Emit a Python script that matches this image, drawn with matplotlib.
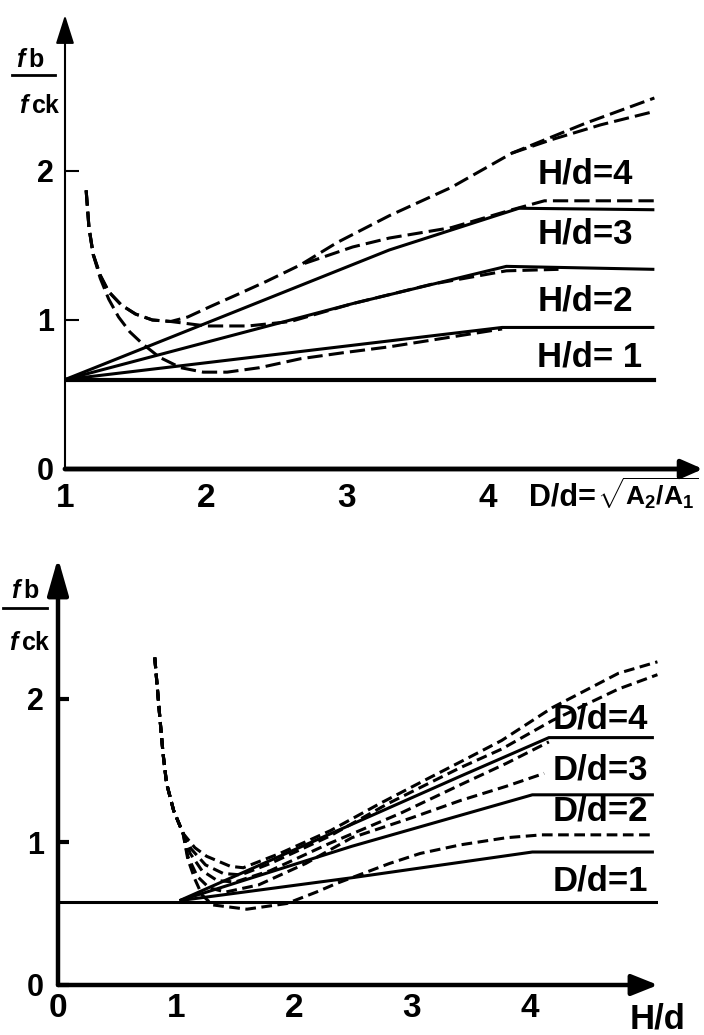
import matplotlib
matplotlib.use('Agg')
import matplotlib.pyplot as plt
from matplotlib.lines import Line2D

plt.rcParams['font.family'] = ['Liberation Sans', 'DejaVu Sans']
plt.rcParams['font.weight'] = 'bold'
plt.rcParams['mathtext.fontset'] = 'custom'
plt.rcParams['mathtext.rm'] = 'Liberation Sans:bold'
plt.rcParams['mathtext.it'] = 'Liberation Sans:italic:bold'
plt.rcParams['mathtext.bf'] = 'Liberation Sans:bold'

# ---------------- data: top panel (x = D/d) ----------------
top_xticks = [1, 2, 3, 4]
top_yticks = [0, 1, 2]
top_labels = ['H/d=4', 'H/d=3', 'H/d=2', 'H/d= 1']
top_label_y = [1.98, 1.58, 1.13, 0.75]

top_base_x = [1.0, 5.18]
top_base_y = [0.6, 0.6]

top_s1_x = [1.0, 4.1, 5.18]
top_s1_y = [0.6, 0.95, 0.95]
top_s2_x = [1.0, 3.04, 4.13, 5.18]
top_s2_y = [0.6, 1.11, 1.36, 1.34]
top_s3_x = [1.0, 3.30, 4.22, 5.18]
top_s3_y = [0.6, 1.47, 1.75, 1.74]

top_da_x = [1.15, 1.17, 1.20, 1.25, 1.31, 1.38, 1.46, 1.55, 1.67, 1.82, 1.98, 2.15,
            2.38, 2.67, 2.97, 3.30, 3.7, 4.1]
top_da_y = [1.87, 1.62, 1.44, 1.28, 1.14, 1.02, 0.92, 0.84, 0.75, 0.68, 0.65, 0.65,
            0.68, 0.74, 0.78, 0.82, 0.88, 0.94]
top_db_x = [1.15, 1.17, 1.20, 1.25, 1.31, 1.40, 1.50, 1.62, 1.75, 2.0, 2.3, 2.6, 3.04,
            3.6, 4.13, 4.5]
top_db_y = [1.87, 1.62, 1.44, 1.30, 1.19, 1.10, 1.04, 1.00, 0.99, 0.96, 0.96, 0.99, 1.11,
            1.24, 1.33, 1.34]
top_dt_x = [1.15, 1.17, 1.20, 1.25, 1.31, 1.40, 1.50, 1.62, 1.75, 1.87, 2.03, 2.22, 2.43,
            2.67, 2.93, 3.30, 3.74, 4.17, 4.69, 5.18]
top_dt_y = [1.87, 1.62, 1.44, 1.30, 1.19, 1.10, 1.04, 1.00, 0.99, 1.02, 1.09, 1.17, 1.26,
            1.37, 1.52, 1.70, 1.89, 2.12, 2.32, 2.49]
top_dt2_x = [4.17, 4.45, 4.8, 5.18]
top_dt2_y = [2.12, 2.21, 2.31, 2.40]
top_dc_x = [2.70, 3.04, 3.30, 3.74, 4.17, 4.4, 5.18]
top_dc_y = [1.38, 1.49, 1.55, 1.62, 1.74, 1.80, 1.80]

# ---------------- data: bottom panel (x = H/d) ----------------
bot_xticks = [0, 1, 2, 3, 4]
bot_yticks = [0, 1, 2]
bot_labels = ['D/d=4', 'D/d=3', 'D/d=2', 'D/d=1']
bot_label_y = [1.86, 1.50, 1.22, 0.73]

bot_base_x = [0.0, 5.22]
bot_base_y = [0.58, 0.58]

bot_s1_x = [1.03, 2.49, 4.02, 5.05]
bot_s1_y = [0.59, 0.75, 0.93, 0.93]
bot_s2_x = [1.03, 2.49, 4.02, 5.05]
bot_s2_y = [0.59, 0.97, 1.33, 1.33]
bot_s3_x = [1.03, 3.41, 4.16, 5.05]
bot_s3_y = [0.59, 1.46, 1.73, 1.73]

stem_x = [0.82, 0.86, 0.89, 0.92, 0.98, 1.06]
stem_y = [2.29, 1.90, 1.62, 1.41, 1.22, 1.06]
bot_u1_x = stem_x + [1.16, 1.26, 1.46, 1.57, 1.88, 2.31, 2.73, 3.15, 3.41, 3.76, 4.19, 4.75, 5.08]
bot_u1_y = stem_y + [0.96, 0.90, 0.83, 0.82, 0.92, 1.08, 1.27, 1.45, 1.56, 1.71, 1.94, 2.18, 2.26]
bot_u2_x = stem_x + [1.13, 1.25, 1.4, 1.55, 1.8, 2.3, 2.8, 3.41, 3.76, 4.19, 4.75, 5.08]
bot_u2_y = stem_y + [0.95, 0.84, 0.78, 0.77, 0.85, 1.04, 1.27, 1.52, 1.65, 1.85, 2.07, 2.17]
bot_u3_x = stem_x + [1.12, 1.22, 1.35, 1.5, 1.8, 2.3, 2.9, 3.41, 3.8, 4.16]
bot_u3_y = stem_y + [0.92, 0.80, 0.73, 0.72, 0.80, 0.99, 1.20, 1.40, 1.55, 1.70]
bot_u4_x = stem_x + [1.1, 1.18, 1.28, 1.42, 1.7, 2.1, 2.49, 3.0, 3.41, 3.8, 4.12]
bot_u4_y = stem_y + [0.90, 0.76, 0.68, 0.65, 0.70, 0.85, 1.03, 1.17, 1.29, 1.39, 1.48]
bot_u5_x = stem_x + [1.1, 1.16, 1.22, 1.31, 1.6, 1.94, 2.19, 2.36, 2.81, 3.07, 3.41, 3.8, 4.1, 5.06]
bot_u5_y = stem_y + [0.88, 0.74, 0.63, 0.56, 0.53, 0.57, 0.65, 0.71, 0.85, 0.92, 0.98, 1.03, 1.05, 1.05]

# ---------------- figure ----------------
W, H = 704, 1035
fig = plt.figure(figsize=(W / 100, H / 100), dpi=100)


def fx(px):
    return px / W


def fy(py):
    return 1 - py / H


def axis_arrows(ax, lwx, lwy, hx, hy):
    ax.annotate('', xy=(1, 0), xytext=(0, 0), xycoords='axes fraction',
                textcoords='axes fraction',
                arrowprops=dict(arrowstyle='-|>,head_length=%s,head_width=%s' % hx,
                                lw=lwx, color='black', shrinkA=0, shrinkB=0,
                                mutation_scale=16))
    ax.annotate('', xy=(0, 1), xytext=(0, 0), xycoords='axes fraction',
                textcoords='axes fraction',
                arrowprops=dict(arrowstyle='-|>,head_length=%s,head_width=%s' % hy,
                                lw=lwy, color='black', shrinkA=0, shrinkB=0,
                                mutation_scale=16))


SOL = dict(color='black', lw=2.2, solid_capstyle='butt')

# ---- top axes ----
ax1 = fig.add_axes([fx(65), fy(469), 638 / W, 454 / H])
ax1.set_xlim(1, 1 + 638 / 141)
ax1.set_ylim(0, 454 / 149)
for s in ax1.spines.values():
    s.set_visible(False)
axis_arrows(ax1, 3.5, 1.5, (0.8, 0.35), (1.1, 0.35))

DT = dict(color='black', lw=2.2, linestyle=(0, (5, 2)))
ax1.plot(top_base_x, top_base_y, color='black', lw=3.0)
ax1.plot(top_s1_x, top_s1_y, **SOL)
ax1.plot(top_s2_x, top_s2_y, **SOL)
ax1.plot(top_s3_x, top_s3_y, **SOL)
ax1.plot(top_da_x, top_da_y, **DT)
ax1.plot(top_db_x, top_db_y, **DT)
ax1.plot(top_dt_x, top_dt_y, **DT)
ax1.plot(top_dt2_x, top_dt2_y, **DT)
ax1.plot(top_dc_x, top_dc_y, **DT)

ax1.set_xticks(top_xticks)
ax1.set_xticklabels([str(v) for v in top_xticks])
ax1.set_yticks(top_yticks)
ax1.set_yticklabels([str(v) for v in top_yticks])
ax1.tick_params(axis='x', length=0, pad=10, labelsize=24)
ax1.tick_params(axis='y', direction='in', length=10, width=1.5, pad=8, labelsize=22)

for lab, yv in zip(top_labels, top_label_y):
    ax1.text(4.35, yv, lab, ha='left', va='center', fontsize=25)
ax1.text(4.29, -0.242, 'D/d=', ha='left', va='baseline', fontsize=22, clip_on=False)
ax1.text(4.77, -0.242, r'$\sqrt{\mathrm{A_2/A_1}}$', ha='left', va='baseline',
         fontsize=19, clip_on=False)

# ---- bottom axes ----
ax2 = fig.add_axes([fx(58), fy(985), 600 / W, 427 / H])
ax2.set_xlim(0, 600 / 118)
ax2.set_ylim(0, 427 / 143)
for s in ax2.spines.values():
    s.set_visible(False)
axis_arrows(ax2, 3.2, 3.2, (1.0, 0.4), (1.4, 0.4))

DB = dict(color='black', lw=2.2, linestyle=(0, (3.5, 1.8)))
ax2.plot(bot_base_x, bot_base_y, color='black', lw=2.2)
ax2.plot(bot_s1_x, bot_s1_y, **SOL)
ax2.plot(bot_s2_x, bot_s2_y, **SOL)
ax2.plot(bot_s3_x, bot_s3_y, **SOL)
ax2.plot(bot_u1_x, bot_u1_y, **DB)
ax2.plot(bot_u2_x, bot_u2_y, **DB)
ax2.plot(bot_u3_x, bot_u3_y, **DB)
ax2.plot(bot_u4_x, bot_u4_y, **DB)
ax2.plot(bot_u5_x, bot_u5_y, **DB)

ax2.set_xticks(bot_xticks)
ax2.set_xticklabels([str(v) for v in bot_xticks])
ax2.set_yticks(bot_yticks)
ax2.set_yticklabels([str(v) for v in bot_yticks])
ax2.tick_params(axis='x', length=0, pad=6, labelsize=24)
ax2.tick_params(axis='y', direction='in', length=8, width=3, pad=10, labelsize=22)

for lab, yv in zip(bot_labels, bot_label_y):
    ax2.text(4.19, yv, lab, ha='left', va='center', fontsize=25)
ax2.text(5.08, -0.24, 'H/d', ha='center', va='center', fontsize=25, clip_on=False)

# ---- y-axis labels as fractions ----
fig.text(fx(30), fy(60), r'$\mathit{f}\,\mathrm{b}$', ha='center', va='center', fontsize=18)
fig.add_artist(Line2D([fx(12), fx(55)], [fy(75), fy(75)], lw=2, color='black'))
fig.text(fx(40), fy(106), r'$\mathit{f}\,\mathrm{ck}$', ha='center', va='center', fontsize=18)

fig.text(fx(25), fy(591), r'$\mathit{f}\,\mathrm{b}$', ha='center', va='center', fontsize=18)
fig.add_artist(Line2D([fx(3), fx(47)], [fy(608), fy(608)], lw=2, color='black'))
fig.text(fx(30), fy(643), r'$\mathit{f}\,\mathrm{ck}$', ha='center', va='center', fontsize=18)

fig.savefig('out.png', dpi=100)
